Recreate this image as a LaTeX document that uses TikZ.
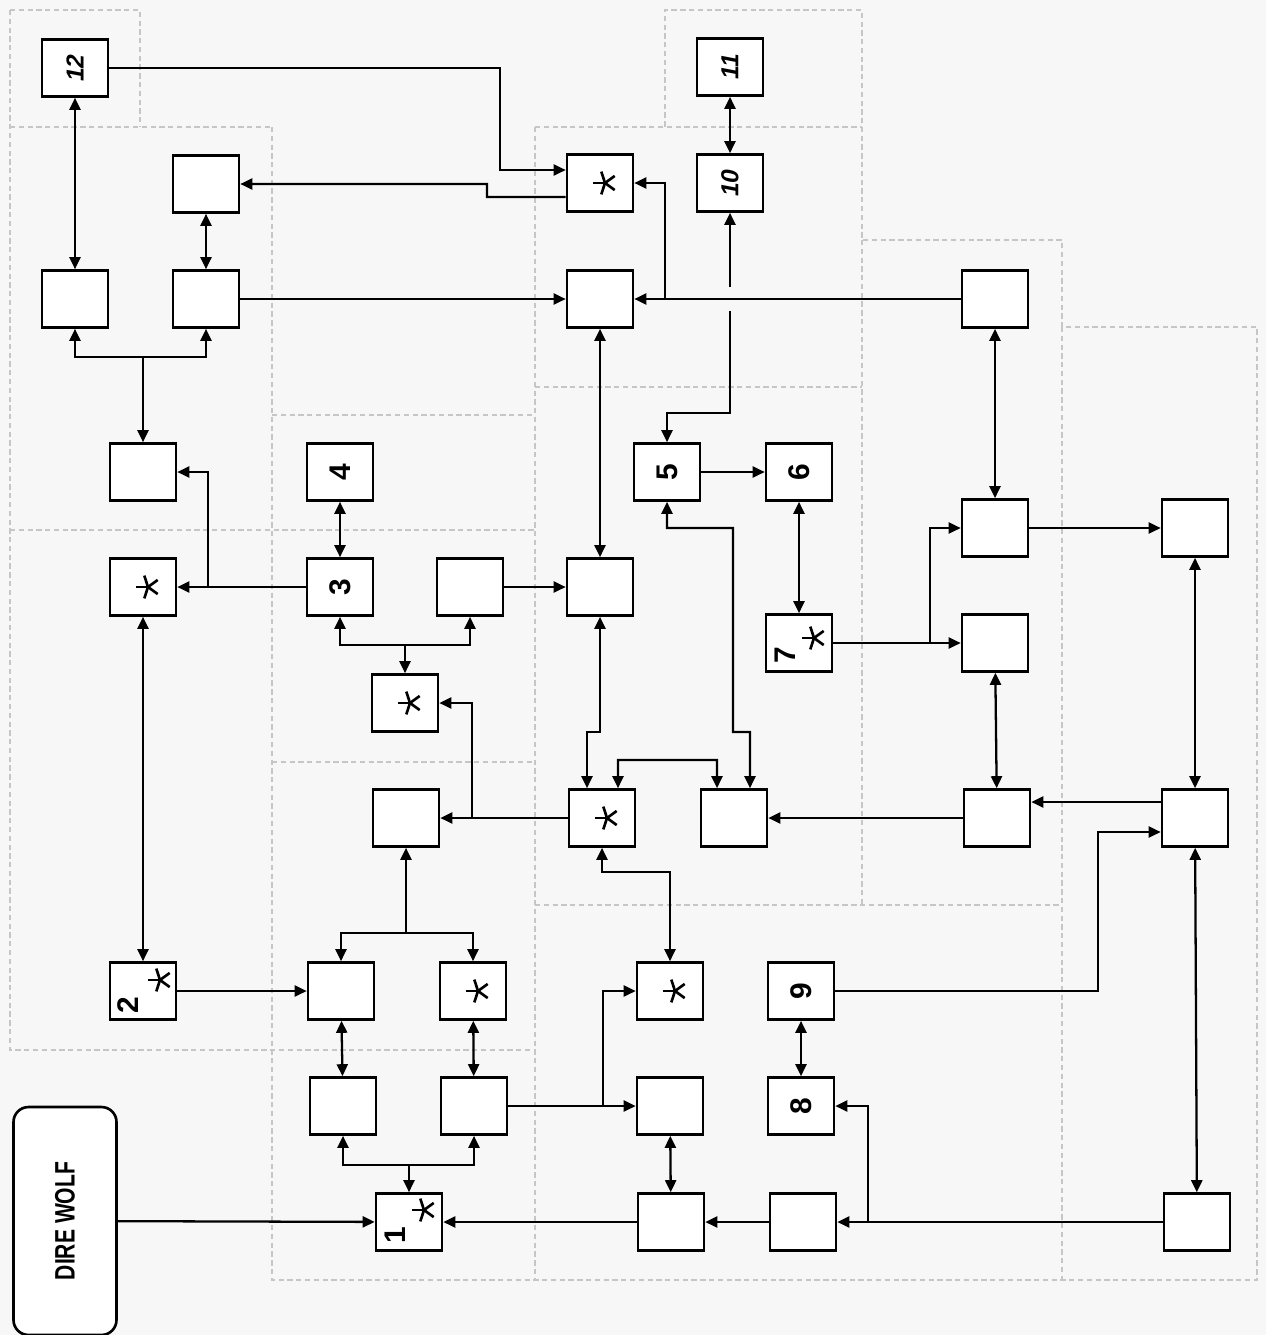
\documentclass[tikz,border=0pt]{standalone}
\usepackage{fontspec}
\setmainfont{Liberation Sans}
\usetikzlibrary{arrows.meta}

\newcommand{\rlab}[1]{\rotatebox{90}{#1}}

\begin{document}
\begin{tikzpicture}[x=0.02cm,y=-0.02cm]
	\tikzstyle{every node}=[inner sep=0pt]
	\tikzstyle{blk}=[draw, line width=1.5pt, minimum width=1.32cm, minimum height=1.14cm, fill=white]
	\tikzstyle{lnk}=[line width=1.3pt]
	\tikzstyle{arr}=[lnk, -{Triangle[length=2.4mm,width=2.2mm]}]
	\tikzstyle{darr}=[lnk, {Triangle[length=2.4mm,width=2.2mm]}-{Triangle[length=2.4mm,width=2.2mm]}]
	\tikzstyle{room}=[gray!45, densely dashed, line width=0.7pt]
	\tikzstyle{num}=[font=\fontsize{17}{19}\selectfont\bfseries]
	\tikzstyle{bignum}=[font=\fontsize{14}{16}\selectfont\bfseries\itshape]
	\tikzset{astk/.pic={\foreach \a in {180,108,36,-36,-108} \draw[line width=1.5pt] (0,0) -- (\a:0.24cm);}}

	%%background and rooms
	\fill[black!3] (0,0) rectangle (1266,1335);
	\useasboundingbox (0,0) rectangle (1266,1335);
	\draw[room] (10,10) -- (140,10) -- (140,127);
	\draw[room] (10,10) -- (10,1050) -- (535,1050);
	\draw[room] (10,127) -- (272,127);
	\draw[room] (272,127) -- (272,1280) -- (1257,1280) -- (1257,327) -- (1062,327) -- (1062,240) -- (862,240) -- (862,10) -- (665,10) -- (665,127);
	\draw[room] (535,127) -- (862,127);
	\draw[room] (535,127) -- (535,1280);
	\draw[room] (535,387) -- (862,387);
	\draw[room] (272,415) -- (535,415);
	\draw[room] (10,530) -- (535,530);
	\draw[room] (272,762) -- (535,762);
	\draw[room] (535,905) -- (1062,905);
	\draw[room] (862,240) -- (862,905);
	\draw[room] (1062,327) -- (1062,1280);

	%%boxes
	\node[blk, bignum] (n12) at (75,68) {\rlab{12}};
	\node[blk, bignum] (n11) at (730,67) {\rlab{11}};
	\node[blk, bignum] (n10) at (730,183) {\rlab{10}};
	\node[blk] (s1) at (600,183) {};
	\node[blk] (b1) at (206,184) {};
	\node[blk] (a1) at (75,299) {};
	\node[blk] (a2) at (206,299) {};
	\node[blk] (c1) at (600,299) {};
	\node[blk] (d1) at (995,299) {};
	\node[blk] (e1) at (143,472) {};
	\node[blk, num] (n4) at (340,472) {\rlab{4}};
	\node[blk, num] (n5) at (667,472) {\rlab{5}};
	\node[blk, num] (n6) at (799,472) {\rlab{6}};
	\node[blk] (f1) at (995,528) {};
	\node[blk] (f2) at (1195,528) {};
	\node[blk] (s2) at (143,587) {};
	\node[blk, num] (n3) at (340,587) {\rlab{3}};
	\node[blk] (g1) at (470,587) {};
	\node[blk] (g2) at (600,587) {};
	\node[blk] (n7) at (799,643) {};
	\node[blk] (h1) at (995,643) {};
	\node[blk] (s3) at (405,703) {};
	\node[blk] (i1) at (406,818) {};
	\node[blk] (s4) at (602,818) {};
	\node[blk] (i2) at (734,818) {};
	\node[blk] (i3) at (997,818) {};
	\node[blk] (i4) at (1195,818) {};
	\node[blk] (n2) at (143,991) {};
	\node[blk] (j1) at (341,991) {};
	\node[blk] (s5) at (473,991) {};
	\node[blk] (s6) at (670,991) {};
	\node[blk, num] (n9) at (801,991) {\rlab{9}};
	\node[blk] (k1) at (343,1106) {};
	\node[blk] (k2) at (474,1106) {};
	\node[blk] (k3) at (670,1106) {};
	\node[blk, num] (n8) at (801,1106) {\rlab{8}};
	\node[blk] (n1) at (409,1222) {};
	\node[blk] (l1) at (671,1222) {};
	\node[blk] (l2) at (803,1222) {};
	\node[blk] (l3) at (1197,1222) {};
	\node[draw, line width=1.5pt, rounded corners=0.3cm, minimum width=2.06cm, minimum height=4.56cm, fill=white] (wolf) at (65,1221) {\rlab{\scalebox{0.75}[1]{\fontsize{16}{18}\selectfont\bfseries DIRE WOLF}}};

	%%numbers and stars
	\node[num] (n7t) at ([xshift=-0.28cm,yshift=-0.24cm]n7.center) {\rlab{7}};
	\node[num] (n2t) at ([xshift=-0.3cm,yshift=-0.28cm]n2.center) {\rlab{2}};
	\node[num] (n1t) at ([xshift=-0.28cm,yshift=-0.26cm]n1.center) {\rlab{1}};
	\pic at ([xshift=0.3cm,yshift=0.1cm]n7.center) {astk};
	\pic at ([xshift=0.34cm,yshift=0.22cm]n2.center) {astk};
	\pic at ([xshift=0.3cm,yshift=0.24cm]n1.center) {astk};
	\foreach \s in {s1,s2,s3,s4,s5,s6}
		\pic at ([xshift=0.1cm]\s.center) {astk};

	%%junctions
	\coordinate (t1) at (143,357);
	\coordinate (t2) at (665,299);
	\coordinate (g10) at (730,287);
	\coordinate (g5) at (730,311);
	\coordinate (t4) at (208,587);
	\coordinate (t5) at (405,645);
	\coordinate (t6) at (930,643);
	\coordinate (t7) at (472,818);
	\coordinate (t8) at (406,933);
	\coordinate (t9) at (409,1165);
	\coordinate (t10) at (603,1106);
	\coordinate (t11) at (868,1222);

	%%connectors
	\draw[darr] (n12) -- (a1);
	\draw[arr] (n12.east) -- (500,68) |- ([yshift=0.26cm]s1.west);
	\draw[arr] ([yshift=-0.28cm]s1.west) -- (487,197) |- (b1.east);
	\draw[darr] (b1) -- (a2);
	\draw[arr] (t1) -- (e1);
	\draw[arr] (t1) -| (a1);
	\draw[arr] (t1) -| (a2);
	\draw[arr] (a2) -- (c1);
	\draw[arr] (d1) -- (c1);
	\draw[arr] (t2) |- (s1.east);
	\draw[arr] (g10) -- (n10);
	\draw[arr] (g5) |- (667,413) -- (n5);
	\draw[darr] (n11) -- (n10);
	\draw[darr] (d1) -- (f1);
	\draw[darr] (c1) -- (g2);
	\draw[darr] (n4) -- (n3);
	\draw[arr] (n3) -- (s2);
	\draw[arr] (t4) |- (e1);
	\draw[darr] (s2) -- (n2);
	\draw[arr] (g1) -- (g2);
	\draw[arr] (t5) -- (s3);
	\draw[arr] (t5) -| (n3);
	\draw[arr] (t5) -| (g1);
	\draw[arr] (n5) -- (n6);
	\draw[darr] (n6) -- (n7);
	\draw[arr] (n7) -- (h1);
	\draw[arr] (t6) |- (f1);
	\draw[arr] (f1) -- (f2);
	\draw[darr] (f2) -- (i4);
	\draw[darr] (h1) -- (i3);
	\draw[arr] ([yshift=0.32cm]i4.west) -- ([yshift=0.32cm]i3.east);
	\draw[arr] (n9) -- (1098,991) |- ([yshift=-0.28cm]i4.west);
	\draw[arr] (i3) -- (i2);
	\draw[darr] (g2) -- (600,732) -| ([xshift=-0.3cm]s4.north);
	\draw[darr] (n5) |- (733,528) |- (750,732) -- ([xshift=0.32cm]i2.north);
	\draw[darr] ([xshift=0.32cm]s4.north) -- (618,760) -| ([xshift=-0.34cm]i2.north);
	\draw[arr] (s4) -- (i1);
	\draw[arr] (t7) |- (s3);
	\draw[darr] (s4) -- (602,872) -| (s6);
	\draw[arr] (t8) -- (i1);
	\draw[arr] (t8) -| (j1);
	\draw[arr] (t8) -| (s5);
	\draw[arr] (n2) -- (j1);
	\draw[darr] (j1) -- (k1);
	\draw[darr] (s5) -- (k2);
	\draw[arr] (t9) -- (n1);
	\draw[arr] (t9) -| (k1);
	\draw[arr] (t9) -| (k2);
	\draw[arr] (k2) -- (k3);
	\draw[arr] (t10) |- (s6);
	\draw[darr] (n9) -- (n8);
	\draw[darr] (k3) -- (l1);
	\draw[arr] (l1) -- (n1);
	\draw[arr] (l2) -- (l1);
	\draw[arr] (l3) -- (l2);
	\draw[arr] (t11) |- (n8);
	\draw[darr] (i4) -- (l3);
	\draw[arr] (wolf) -- (n1);

\end{tikzpicture}
\end{document}
